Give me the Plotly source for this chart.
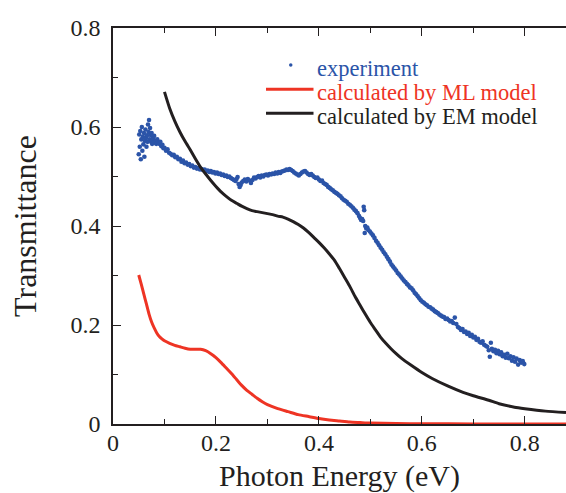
import plotly.graph_objects as go

# ---------------- data ----------------
exp_x = [0.050,0.051,0.052,0.053,0.054,0.055,0.056,0.057,0.058,0.059,0.060,0.061,0.062,0.063,0.064,0.065,0.066,0.067,0.068,0.069,
         0.070,0.071,0.072,0.073,0.074,0.075,0.076,0.077,0.078,0.079,0.080,0.082,0.084,0.086,0.088,0.090,0.092,0.094,0.096,0.098,
         0.100,0.103,0.106,0.109,0.112,0.115,0.118,0.121,0.124,0.127,0.130,0.133,0.136,0.139,0.142,0.145,0.148,0.151,0.154,0.157,
         0.160,0.163,0.166,0.169,0.172,0.175,0.178,0.181,0.184,0.187,0.190,0.193,0.196,0.199,0.202,0.205,0.208,0.211,0.214,0.217,
         0.220,0.223,0.226,0.229,0.232,0.235,0.238,0.240,0.242,0.244,0.246,0.248,0.250,0.253,0.256,0.259,0.262,0.265,0.268,0.271,
         0.274,0.277,0.280,0.283,0.286,0.289,0.292,0.295,0.298,0.301,0.304,0.307,0.310,0.313,0.316,0.319,0.322,0.325,0.328,0.331,
         0.334,0.337,0.340,0.343,0.346,0.349,0.352,0.355,0.358,0.361,0.364,0.367,0.370,0.373,0.376,0.379,0.382,0.385,0.388,0.391,
         0.394,0.397,0.400,0.403,0.406,0.409,0.412,0.415,0.418,0.421,0.424,0.427,0.430,0.433,0.436,0.439,0.442,0.445,0.448,0.451,
         0.454,0.457,0.460,0.463,0.466,0.469,0.472,0.475,0.478,0.480,0.482,0.484,0.486,0.487,0.488,0.489,0.490,0.492,0.494,0.496,
         0.499,0.502,0.505,0.508,0.511,0.514,0.517,0.520,0.523,0.526,0.529,0.532,0.535,0.538,0.541,0.544,0.547,0.550,0.553,0.556,
         0.559,0.562,0.565,0.568,0.571,0.574,0.577,0.580,0.583,0.586,0.589,0.592,0.595,0.598,0.601,0.604,0.607,0.610,0.613,0.616,
         0.619,0.622,0.625,0.628,0.631,0.634,0.637,0.640,0.643,0.646,0.649,0.652,0.655,0.658,0.661,0.664,0.667,0.670,0.673,0.676,
         0.679,0.682,0.685,0.688,0.691,0.694,0.697,0.700,0.703,0.706,0.709,0.712,0.715,0.718,0.721,0.724,0.727,0.730,0.732,0.734,
         0.736,0.739,0.742,0.745,0.748,0.751,0.754,0.757,0.760,0.763,0.766,0.769,0.772,0.775,0.778,0.781,0.784,0.787,0.790,0.793,
         0.796,0.799]
exp_y = [0.545,0.585,0.560,0.592,0.535,0.575,0.600,0.552,0.580,0.565,0.588,0.540,0.572,0.595,0.578,0.560,0.583,0.570,0.605,0.590,
         0.614,0.575,0.598,0.584,0.570,0.588,0.566,0.580,0.576,0.568,0.582,0.572,0.566,0.575,0.568,0.566,0.570,0.561,0.564,0.557,
         0.558,0.552,0.555,0.548,0.546,0.543,0.544,0.539,0.540,0.535,0.536,0.530,0.532,0.527,0.528,0.524,0.525,0.521,0.522,0.518,
         0.519,0.516,0.517,0.514,0.515,0.513,0.514,0.511,0.512,0.509,0.511,0.508,0.509,0.506,0.508,0.505,0.506,0.503,0.504,0.501,
         0.502,0.499,0.500,0.497,0.495,0.493,0.491,0.495,0.499,0.485,0.479,0.483,0.488,0.491,0.494,0.490,0.495,0.492,0.487,0.493,
         0.498,0.496,0.499,0.501,0.498,0.502,0.500,0.503,0.504,0.502,0.505,0.504,0.506,0.505,0.508,0.506,0.509,0.507,0.510,0.511,
         0.512,0.514,0.513,0.515,0.513,0.511,0.508,0.506,0.504,0.502,0.505,0.508,0.510,0.511,0.508,0.505,0.503,0.505,0.502,0.499,
         0.497,0.498,0.494,0.491,0.492,0.487,0.485,0.483,0.479,0.477,0.474,0.472,0.469,0.467,0.465,0.462,0.460,0.456,0.453,0.451,
         0.449,0.445,0.443,0.440,0.437,0.433,0.430,0.426,0.420,0.416,0.412,0.414,0.410,0.439,0.432,0.386,0.400,0.395,0.397,0.392,
         0.389,0.385,0.381,0.376,0.370,0.366,0.361,0.356,0.352,0.347,0.343,0.338,0.333,0.328,0.322,0.318,0.314,0.310,0.305,0.302,
         0.298,0.294,0.290,0.287,0.283,0.280,0.276,0.274,0.270,0.265,0.262,0.258,0.254,0.250,0.247,0.245,0.242,0.240,0.237,0.236,
         0.233,0.231,0.228,0.226,0.224,0.221,0.219,0.217,0.216,0.212,0.213,0.210,0.207,0.208,0.204,0.215,0.202,0.196,0.194,0.190,
         0.192,0.186,0.187,0.182,0.184,0.178,0.180,0.175,0.176,0.170,0.172,0.166,0.164,0.167,0.160,0.158,0.156,0.149,0.136,0.164,
         0.152,0.147,0.150,0.143,0.148,0.141,0.145,0.137,0.140,0.134,0.142,0.133,0.137,0.128,0.135,0.126,0.132,0.120,0.129,0.124,
         0.127,0.121]

ml_x = [0.050,0.055,0.060,0.065,0.070,0.075,0.080,0.085,0.090,0.095,0.100,0.110,0.120,0.130,0.140,0.150,0.160,0.170,0.180,0.190,
        0.200,0.210,0.220,0.230,0.240,0.250,0.260,0.270,0.280,0.290,0.300,0.320,0.340,0.360,0.380,0.400,0.420,0.440,0.460,0.480,
        0.500,0.550,0.600,0.700,0.800,0.880]
ml_y = [0.301,0.282,0.262,0.242,0.222,0.206,0.194,0.184,0.177,0.172,0.168,0.163,0.159,0.156,0.153,0.151,0.151,0.151,0.148,0.142,
        0.134,0.124,0.113,0.102,0.090,0.078,0.068,0.060,0.052,0.045,0.039,0.031,0.025,0.019,0.015,0.011,0.008,0.006,0.004,0.003,
        0.002,0.001,0.0005,0.0002,0.0001,0.0]

em_x = [0.100,0.110,0.120,0.130,0.140,0.150,0.160,0.170,0.180,0.190,0.200,0.210,0.220,0.230,0.240,0.250,0.260,0.270,0.280,0.290,
        0.300,0.310,0.320,0.330,0.340,0.350,0.360,0.370,0.380,0.390,0.400,0.410,0.420,0.430,0.440,0.450,0.460,0.470,0.480,0.490,
        0.500,0.510,0.520,0.530,0.540,0.550,0.560,0.580,0.600,0.620,0.650,0.680,0.700,0.730,0.750,0.780,0.800,0.840,0.880]
em_y = [0.671,0.638,0.612,0.590,0.571,0.554,0.536,0.519,0.505,0.492,0.480,0.469,0.460,0.452,0.446,0.440,0.435,0.431,0.429,0.427,
        0.425,0.423,0.420,0.418,0.414,0.409,0.403,0.396,0.387,0.377,0.367,0.356,0.344,0.331,0.314,0.296,0.278,0.258,0.240,0.222,
        0.205,0.190,0.175,0.163,0.152,0.142,0.133,0.118,0.104,0.092,0.077,0.064,0.057,0.048,0.041,0.034,0.031,0.026,0.023]

tick_vals = [0, 0.2, 0.4, 0.6, 0.8]
tick_text = ["0", "0.2", "0.4", "0.6", "0.8"]
legend_names = ["experiment", "calculated by ML model", "calculated by EM model"]

# ---------------- style ----------------
BLUE = "#2b54a8"
RED = "#ee3424"
BLACK = "#231f20"
FONT = "Liberation Serif, Times New Roman, Times, serif"

W, H = 566, 493
ML, MR, MT, MB = 113, 0, 28, 69
PW, PH = W - ML - MR, H - MT - MB

def px(xp):
    return (xp - ML) / PW

def py(yp):
    return (H - MB - yp) / PH

fig = go.Figure()
fig.add_trace(go.Scatter(x=exp_x, y=exp_y, mode="markers", name=legend_names[0],
                         marker=dict(color=BLUE, size=4.6, line=dict(width=0)),
                         showlegend=False, cliponaxis=False))
fig.add_trace(go.Scatter(x=ml_x, y=ml_y, mode="lines", name=legend_names[1],
                         line=dict(color=RED, width=3, shape="spline", smoothing=0.6),
                         showlegend=False, cliponaxis=False))
fig.add_trace(go.Scatter(x=em_x, y=em_y, mode="lines", name=legend_names[2],
                         line=dict(color=BLACK, width=3, shape="spline", smoothing=0.6),
                         showlegend=False, cliponaxis=False))

axis_common = dict(
    showline=True, linecolor=BLACK, linewidth=1.6,
    ticks="inside", ticklen=8, tickwidth=1.4, tickcolor=BLACK,
    showgrid=False, zeroline=False,
    tickfont=dict(family=FONT, size=24, color=BLACK),
    tickvals=tick_vals, ticktext=tick_text,
    minor=dict(ticks="inside", ticklen=5, tickwidth=1.2, tickcolor=BLACK, dtick=0.1, tick0=0, showgrid=False),
)

fig.update_xaxes(range=[0, 0.88], mirror="ticks", ticklabelstandoff=-4,
                 title=dict(text="Photon Energy (eV)", font=dict(family=FONT, size=30, color=BLACK), standoff=10),
                 **axis_common)
fig.update_yaxes(range=[0, 0.8], mirror=False, ticklabelstandoff=6,
                 title=dict(text="Transmittance", font=dict(family=FONT, size=32, color=BLACK), standoff=24),
                 **axis_common)

# legend drawn by hand (sample marks + text)
rows_y = [68.3, 92.0, 116.7]
colors = [BLUE, RED, BLACK]
for name, yy, c in zip(legend_names, rows_y, colors):
    fig.add_annotation(x=px(315), y=py(yy), xref="paper", yref="paper", text=name,
                       showarrow=False, xanchor="left", yanchor="middle",
                       font=dict(family=FONT, size=22.5, color=c))
fig.add_shape(type="circle", xref="paper", yref="paper",
              x0=px(289), x1=px(292.5), y0=py(66.8), y1=py(63.3),
              fillcolor=BLUE, line=dict(width=0))
fig.add_shape(type="line", xref="paper", yref="paper", x0=px(266), x1=px(313.5),
              y0=py(89.3), y1=py(89.3), line=dict(color=RED, width=3))
fig.add_shape(type="line", xref="paper", yref="paper", x0=px(266), x1=px(313.5),
              y0=py(113.3), y1=py(113.3), line=dict(color=BLACK, width=3))

fig.update_layout(width=W, height=H, margin=dict(l=ML, r=MR, t=MT, b=MB, autoexpand=False),
                  plot_bgcolor="white", paper_bgcolor="white", showlegend=False)

fig.write_html("out.html", config={"displayModeBar": False},
               post_script="document.body.style.margin='0';document.body.style.overflow='hidden';")
